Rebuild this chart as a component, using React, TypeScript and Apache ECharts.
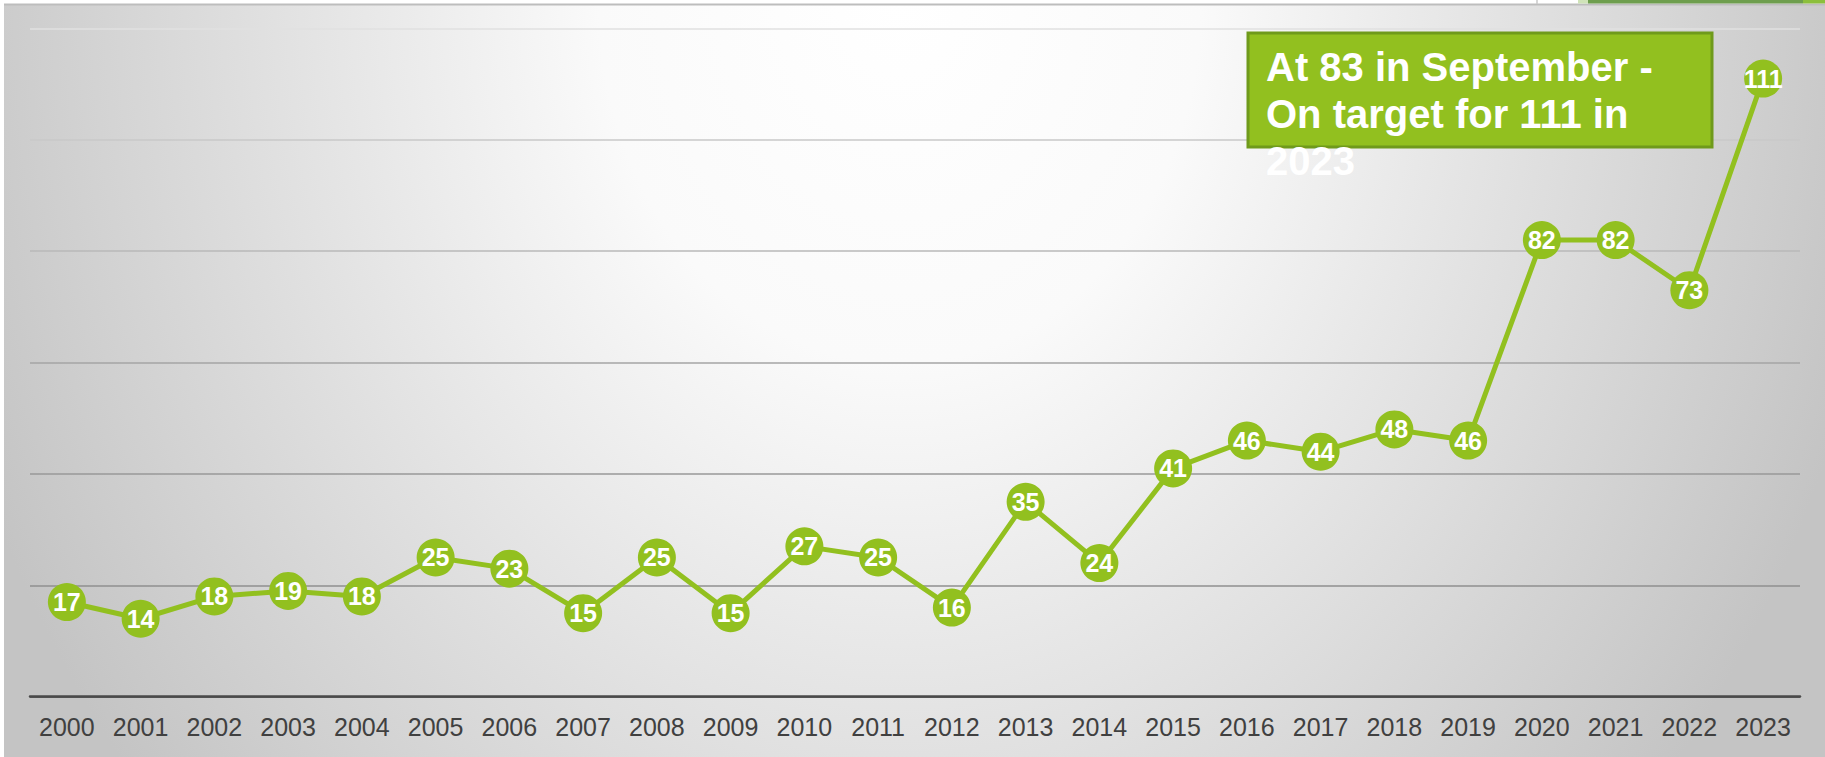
import React, { useEffect, useRef } from "react";
import * as echarts from "echarts";

const years = [
  "2000", "2001", "2002", "2003", "2004", "2005", "2006", "2007", "2008", "2009", "2010", "2011",
  "2012", "2013", "2014", "2015", "2016", "2017", "2018", "2019", "2020", "2021", "2022", "2023",
];
const counts = [17, 14, 18, 19, 18, 25, 23, 15, 25, 15, 27, 25, 16, 35, 24, 41, 46, 44, 48, 46, 82, 82, 73, 111];
const yMin = 0;
const yMax = 120;
const yStep = 20;
const noteLines = ["At 83 in September -", "On target for 111 in", "2023"];

const GREEN = "#92c01f";
const FONT = "'Liberation Sans', Arial, sans-serif";

export default function App() {
  const ref = useRef<HTMLDivElement>(null);

  useEffect(() => {
    document.body.style.margin = "0";
    const chart = echarts.init(ref.current!, null, { renderer: "svg" });

    const noteYs = [67.3, 113.6, 160.6];

    const option: any = {
      animation: false,
      grid: { left: 30, right: 25, top: 28.5, bottom: 60.3, containLabel: false },
      xAxis: {
        type: "category",
        data: years,
        boundaryGap: true,
        axisLine: { show: true, lineStyle: { color: "#4a4a4a", width: 2.5 } },
        axisTick: { show: false },
        axisLabel: { color: "#404040", fontSize: 25, fontFamily: FONT, margin: 18, interval: 0 },
        splitLine: { show: false },
      },
      yAxis: {
        type: "value",
        min: yMin,
        max: yMax,
        interval: yStep,
        axisLine: { show: false },
        axisTick: { show: false },
        axisLabel: { show: false },
        splitLine: {
          show: true,
          lineStyle: {
            width: 1.5,
            color: ["#4a4a4a", "#8f8f8f", "#999999", "#a5a5a5", "#b8b8b8", "#c9c9c9", "#e0e0e0"],
          },
        },
      },
      series: [
        {
          type: "line",
          data: counts,
          clip: false,
          z: 5,
          lineStyle: { color: GREEN, width: 5 },
          itemStyle: { color: GREEN },
          symbol: "circle",
          symbolSize: 38,
          showAllSymbol: true,
          label: {
            show: true,
            position: "inside",
            color: "#ffffff",
            fontSize: 25,
            fontWeight: "bold",
            fontFamily: FONT,
          },
        },
      ],
      graphic: [
        {
          type: "rect",
          silent: true,
          z: -100,
          shape: { x: 4, y: -700, width: 1821, height: 2200 },
          style: {
            fill: new echarts.graphic.RadialGradient(0.492, 0.318, 0.55, [
              { offset: 0, color: "#ffffff" },
              { offset: 0.3, color: "#fafafa" },
              { offset: 1, color: "#c4c4c4" },
            ]),
          },
        },
        {
          type: "rect",
          silent: true,
          z: -99,
          shape: { x: 0, y: 0, width: 1825, height: 4 },
          style: { fill: "#ffffff" },
        },
        {
          type: "line",
          silent: true,
          z: -98,
          shape: { x1: 4, y1: 4.5, x2: 1825, y2: 4.5 },
          style: { stroke: "#bdbdbd", lineWidth: 2 },
        },
        {
          type: "line",
          silent: true,
          z: -98,
          shape: { x1: 1537, y1: 0, x2: 1537, y2: 4 },
          style: { stroke: "#c8c8c8", lineWidth: 1.5 },
        },
        {
          type: "rect",
          silent: true,
          z: -98,
          shape: { x: 1578, y: 0, width: 10, height: 3.5 },
          style: { fill: "#cfe3b8" },
        },
        {
          type: "rect",
          silent: true,
          z: -98,
          shape: { x: 1588, y: 0, width: 215, height: 3.5 },
          style: { fill: "#6e9e4e" },
        },
        {
          type: "rect",
          silent: true,
          z: -98,
          shape: { x: 1803, y: 0, width: 22, height: 3.5 },
          style: { fill: "#8cbf3c" },
        },
        {
          type: "rect",
          silent: true,
          z: 100,
          shape: { x: 1248, y: 33, width: 464, height: 114 },
          style: { fill: GREEN, stroke: "#6f9a1b", lineWidth: 3 },
        },
        ...noteLines.map((t, i) => ({
          type: "text",
          silent: true,
          z: 101,
          x: 1266,
          y: noteYs[i],
          style: {
            text: t,
            fill: "#ffffff",
            fontSize: 40,
            fontWeight: "bold",
            fontFamily: FONT,
            align: "left",
            verticalAlign: "middle",
          },
        })),
      ],
    };

    chart.setOption(option);
    return () => chart.dispose();
  }, []);

  return <div ref={ref} style={{ width: 1825, height: 757 }} />;
}
